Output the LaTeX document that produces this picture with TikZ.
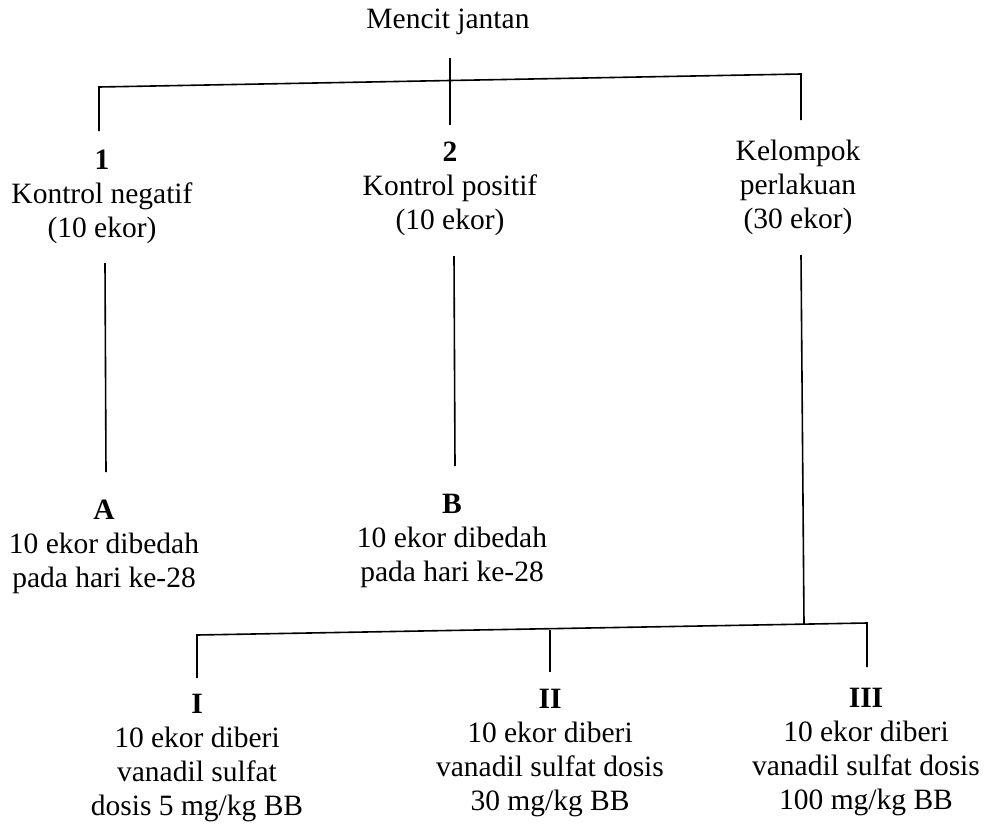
\documentclass[tikz,border=0pt]{standalone}
\usepackage{fontspec}
\setmainfont{Liberation Serif}
\begin{document}
\begin{tikzpicture}[x=1pt,y=-1pt,
  lbl/.style={align=center,inner sep=0pt,font=\fontsize{29.5}{34}\selectfont},
  conn/.style={line width=1.6pt,black}]
\useasboundingbox (0,0) rectangle (985,825);
% texts
\node[lbl] (root) at (448,22) {Mencit jantan};
\node[lbl] (g1) at (102,197) {\textbf{1}\\Kontrol negatif\\(10 ekor)};
\node[lbl] (g2) at (450,189) {\textbf{2}\\Kontrol positif\\(10 ekor)};
\node[lbl] (g3) at (798,187) {Kelompok\\perlakuan\\(30 ekor)};
\node[lbl] (gA) at (104,547) {\textbf{A}\\10 ekor dibedah\\pada hari ke-28};
\node[lbl] (gB) at (452,541) {\textbf{B}\\10 ekor dibedah\\pada hari ke-28};
\node[lbl] (gI) at (197,758) {\textbf{I}\\10 ekor diberi\\vanadil sulfat\\dosis 5 mg/kg BB};
\node[lbl] (gII) at (550,753) {\textbf{II}\\10 ekor diberi\\vanadil sulfat dosis\\30 mg/kg BB};
\node[lbl] (gIII) at (866,752) {\textbf{III}\\10 ekor diberi\\vanadil sulfat dosis\\100 mg/kg BB};
% junction coordinates
\coordinate (t0) at (450,58);
\coordinate (t1) at (450,125);
\coordinate (hl) at (99,87);
\coordinate (hr) at (801,74);
\coordinate (d1) at (99,131);
\coordinate (d3) at (801,120);
\coordinate (a0) at (105,263);
\coordinate (a1) at (106,472);
\coordinate (b0) at (454,256);
\coordinate (b1) at (455,466);
\coordinate (c0) at (801,255);
\coordinate (c1) at (804,624);
\coordinate (ll) at (197,635);
\coordinate (lr) at (867,623);
\coordinate (lm) at (550,630);
\coordinate (e1) at (197,678);
\coordinate (e2) at (550,672);
\coordinate (e3) at (867,667);
% connectors
\draw[conn] (t0) -- (t1);
\draw[conn] (d1) -- (hl) -- (hr) -- (d3);
\draw[conn] (a0) -- (a1);
\draw[conn] (b0) -- (b1);
\draw[conn] (c0) -- (c1);
\draw[conn] (e1) -- (ll) -- (lr) -- (e3);
\draw[conn] (lm) -- (e2);
\end{tikzpicture}
\end{document}
